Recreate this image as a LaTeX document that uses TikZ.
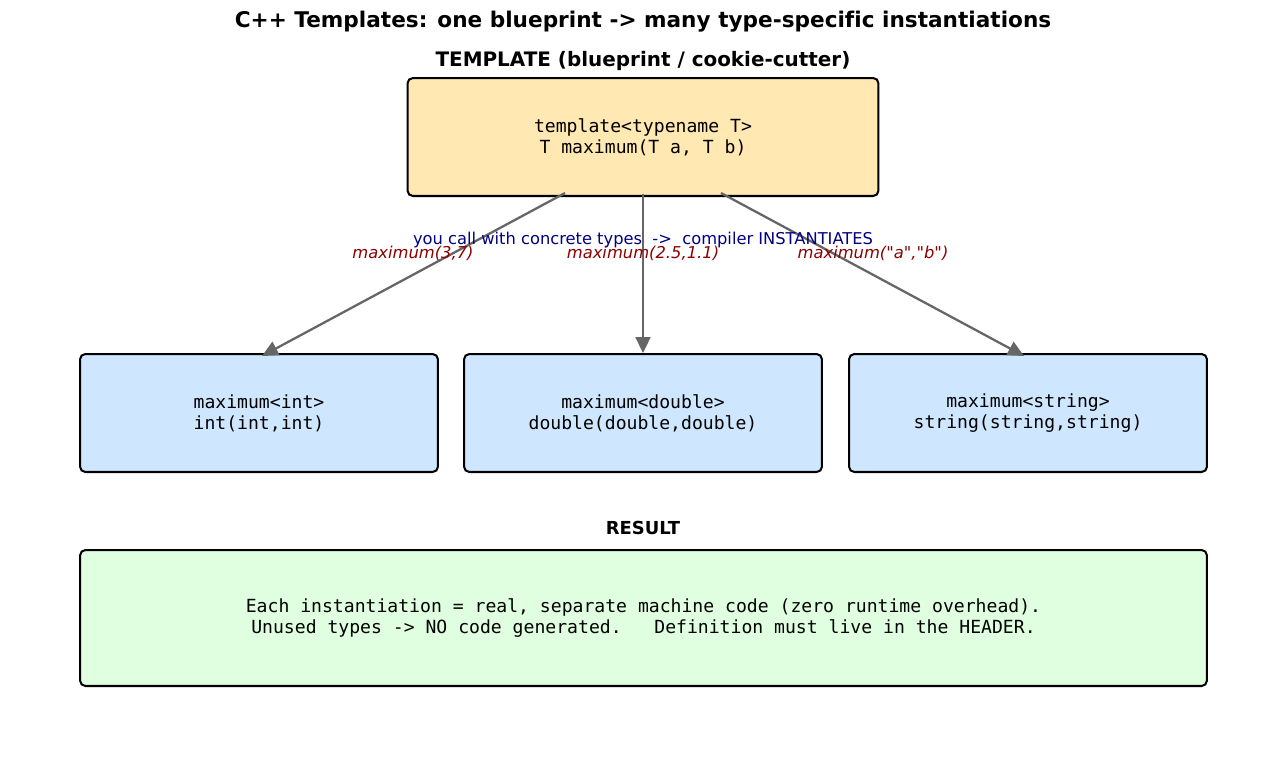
\documentclass[tikz,border=0pt]{standalone}
\usepackage{fontspec}
\setmainfont[Ligatures=NoCommon]{DejaVu Sans}
\setsansfont{DejaVu Sans}
\setmonofont{DejaVu Sans Mono}
\usetikzlibrary{arrows.meta}

\definecolor{tplfill}{HTML}{FFE8B2}
\definecolor{instfill}{HTML}{CFE6FF}
\definecolor{resfill}{HTML}{E0FFE0}
\definecolor{callnavy}{HTML}{000080}
\definecolor{calldark}{HTML}{8B0000}
\definecolor{arrowgray}{HTML}{666666}

\begin{document}
\begin{tikzpicture}[x=0.02cm,y=-0.02cm]
 \tikzstyle{arrow} = [-{Triangle[length=0.32cm,width=0.3cm]},draw=arrowgray,line width=1.3pt];
 \tikzstyle{box} = [rectangle,rounded corners=3pt,draw=black,line width=1.15pt,align=center,font=\ttfamily\fontsize{10.3}{12}\selectfont];
 \tikzstyle{boxT} = [box,fill=tplfill,minimum width=9.42cm,minimum height=2.36cm];
 \tikzstyle{boxI} = [box,fill=instfill,minimum width=7.16cm,minimum height=2.36cm];
 \tikzstyle{boxR} = [box,fill=resfill,minimum width=22.54cm,minimum height=2.72cm];
 \tikzstyle{heading} = [inner sep=0pt,font=\bfseries\fontsize{10.2}{12}\selectfont];
 \tikzstyle{call} = [inner sep=0pt,text=calldark,font=\itshape\fontsize{9.3}{11}\selectfont];

 \useasboundingbox (0,0) rectangle (1287,764);

 \node[inner sep=0pt,font=\bfseries\fontsize{12.3}{14}\selectfont,name=title] at (643,22)
   {C++ Templates: one blueprint -> many type-specific instantiations};
 \node[inner sep=0pt,font=\bfseries\fontsize{11.35}{13}\selectfont,name=tplhead] at (643,61)
   {TEMPLATE (blueprint / cookie-cutter)};

 \node[boxT,name=tpl] at (643,137) {template<typename T>\\T maximum(T a, T b)};

 \node[boxI,name=inst1] at (259,413) {maximum<int>\\int(int,int)};
 \node[boxI,name=inst2] at (643,413) {maximum<double>\\double(double,double)};
 \node[boxI,name=inst3] at (1028,413) {maximum<string>\\string(string,string)};

 \draw[arrow] ([xshift=-1.56cm,yshift=0.08cm]tpl.south) -- ([xshift=0.06cm,yshift=-0.06cm]inst1.north);
 \draw[arrow] ([yshift=0.06cm]tpl.south) -- (inst2.north);
 \draw[arrow] ([xshift=1.56cm,yshift=0.08cm]tpl.south) -- ([xshift=-0.08cm,yshift=-0.06cm]inst3.north);

 \node[inner sep=0pt,text=callnavy,font=\fontsize{9.27}{11}\selectfont,name=callnote] at (643,240)
   {you call with concrete types\ \ ->\ \ compiler INSTANTIATES};
 \node[call,name=call1] at (413,253) {maximum(3,7)};
 \node[call,name=call2] at (643,253) {maximum(2.5,1.1)};
 \node[call,name=call3] at (873,253) {maximum(\textquotedbl a\textquotedbl,\textquotedbl b\textquotedbl)};

 \node[heading,name=reshead] at (643,528) {RESULT};
 \node[boxR,name=res] at (643.5,618)
   {Each instantiation = real, separate machine code (zero runtime overhead).\\Unused types -> NO code generated.\ \ \ Definition must live in the HEADER.};
\end{tikzpicture}
\end{document}
